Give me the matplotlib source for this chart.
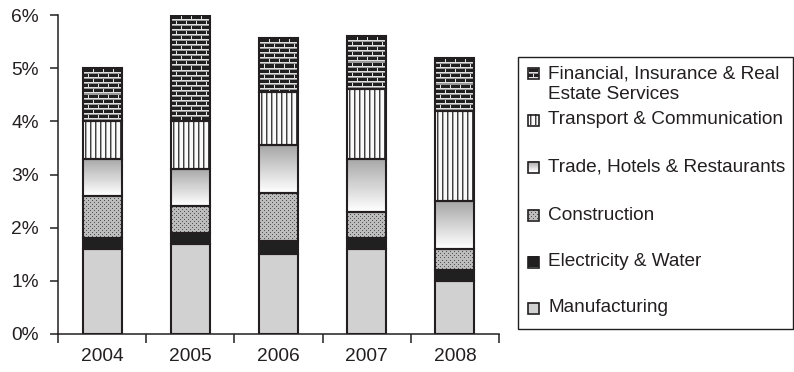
import numpy as np
import matplotlib
matplotlib.use("Agg")
import matplotlib.pyplot as plt
from matplotlib.patches import Rectangle

plt.rcParams["font.family"] = ["Liberation Sans", "DejaVu Sans"]

# ------------------------------
# data (% of GDP growth by sector)
# ------------------------------
years = ["2004", "2005", "2006", "2007", "2008"]
manufacturing = [1.6, 1.7, 1.5, 1.6, 1.0]
electricity = [0.2, 0.2, 0.25, 0.2, 0.2]
construction = [0.8, 0.5, 0.9, 0.5, 0.4]
trade = [0.7, 0.7, 0.9, 1.0, 0.9]
transport = [0.7, 0.9, 1.0, 1.3, 1.7]
financial = [1.0, 2.0, 1.02, 1.0, 1.0]

labels = [
    "Manufacturing",
    "Electricity & Water",
    "Construction",
    "Trade, Hotels & Restaurants",
    "Transport & Communication",
    "Financial, Insurance & Real\nEstate Services",
]
yticks = [0, 1, 2, 3, 4, 5, 6]

INK = "#231f20"
W, H = 794, 372


# ------------------------------
# textures (grey level arrays, pixel sized)
# ------------------------------
def tex_plain(h, w, level):
    return np.full((h, w), level)


def tex_dots(h, w):
    img = np.full((h, w), 0.74)
    yy, xx = np.mgrid[0:h, 0:w]
    img[(yy % 4 == 1) & (xx % 4 == 1)] = 0.32
    img[(yy % 4 == 3) & (xx % 4 == 3)] = 0.32
    return img


def tex_gradient(h, w):
    col = np.linspace(0.62, 1.0, max(h, 2)) ** 0.9
    return np.repeat(col[:, None], max(w, 1), axis=1)


def tex_vlines(h, w):
    img = np.full((h, w), 0.98)
    yy, xx = np.mgrid[0:h, 0:w]
    img[xx % 5 == 2] = 0.25
    img[xx % 5 == 3] = 0.65
    return img


def tex_bricks(h, w):
    img = np.full((h, w), 0.13)
    yy, xx = np.mgrid[0:h, 0:w]
    course = yy // 5
    img[yy % 5 == 0] = 0.88
    img[yy % 5 == 1] = 0.6
    img[((xx + (course % 2) * 5) % 10 == 0) & (yy % 5 > 1)] = 0.88
    return img


textures = [
    lambda h, w: tex_plain(h, w, 0.82),
    lambda h, w: tex_plain(h, w, 0.13),
    tex_dots,
    tex_gradient,
    tex_vlines,
    tex_bricks,
]

series = [manufacturing, electricity, construction, trade, transport, financial]

fig = plt.figure(figsize=(W / 100, H / 100), dpi=100)
ax = fig.add_axes([58 / W, 1 - 334 / H, (499 - 58) / W, (334 - 15) / H])
ax.set_xlim(-0.5, len(years) - 0.5)
ax.set_ylim(0, 6)
ax.set_autoscale_on(False)

x = np.arange(len(years))
bottom = np.zeros(len(years))
containers = []
for vals in series:
    bc = ax.bar(x, vals, 0.44, bottom=bottom, color="white", linewidth=0, zorder=1)
    containers.append(bc)
    bottom += np.array(vals)


def paint(axis, patch_box, tex, z=2):
    x0, y0, x1, y1 = patch_box
    p0 = axis.transData.transform((x0, y0))
    p1 = axis.transData.transform((x1, y1))
    w = max(int(round(abs(p1[0] - p0[0]))), 1)
    h = max(int(round(abs(p1[1] - p0[1]))), 1)
    axis.imshow(tex(h, w), cmap="gray", vmin=0, vmax=1, extent=(x0, x1, y0, y1),
                origin="upper", aspect="auto", interpolation="nearest", zorder=z)


for bc, tex in zip(containers, textures):
    for p in bc.patches:
        paint(ax, (p.get_x(), p.get_y(), p.get_x() + p.get_width(),
                   p.get_y() + p.get_height()), tex)

# outlines over the textures
bottom = np.zeros(len(years))
for vals in series:
    ax.bar(x, vals, 0.44, bottom=bottom, fill=False, edgecolor=INK,
           linewidth=1.5, zorder=3)
    bottom += np.array(vals)

# axes styling
for side in ("top", "right"):
    ax.spines[side].set_visible(False)
for side in ("left", "bottom"):
    ax.spines[side].set_color(INK)
    ax.spines[side].set_linewidth(1.1)

ax.set_yticks(yticks)
ax.set_yticklabels([f"{v}%" for v in yticks])
ax.set_xticks(x)
ax.set_xticklabels(years)
ax.set_xticks(np.arange(-0.5, len(years)), minor=True)
ax.tick_params(axis="y", direction="out", length=6, width=1.1, color=INK,
               labelsize=13.8, labelcolor=INK, pad=8)
ax.tick_params(axis="x", which="major", length=0, labelsize=13.8,
               labelcolor=INK, pad=10)
ax.tick_params(axis="x", which="minor", direction="out", length=6.5,
               width=1.1, color=INK)

# ------------------------------
# legend, drawn in pixel space
# ------------------------------
ov = fig.add_axes([0, 0, 1, 1])
ov.set_xlim(0, W)
ov.set_ylim(H, 0)
ov.axis("off")
ov.patch.set_visible(False)
ov.set_autoscale_on(False)

ov.add_patch(Rectangle((518, 57), 275, 272, fill=False, edgecolor=INK,
                       linewidth=1.0, zorder=1))

icon_y = [308, 262, 215, 167, 120, 73]
text_y = [308, 262, 215, 167, 120, 84]
for tex, lab, iy, ty in zip(textures, labels, icon_y, text_y):
    x0, x1 = 528, 539
    y0, y1 = iy - 5.5, iy + 5.5
    ov.imshow(tex(11, 11), cmap="gray", vmin=0, vmax=1,
              extent=(x0, x1, y1, y0), origin="upper", aspect="auto",
              interpolation="nearest", zorder=2)
    ov.add_patch(Rectangle((x0, y0), 11, 11, fill=False, edgecolor=INK,
                           linewidth=1.2, zorder=3))
    ov.text(548, ty, lab, fontsize=13.7, color=INK, va="center", ha="left",
            linespacing=1.3)

fig.savefig("out.png", dpi=100)
